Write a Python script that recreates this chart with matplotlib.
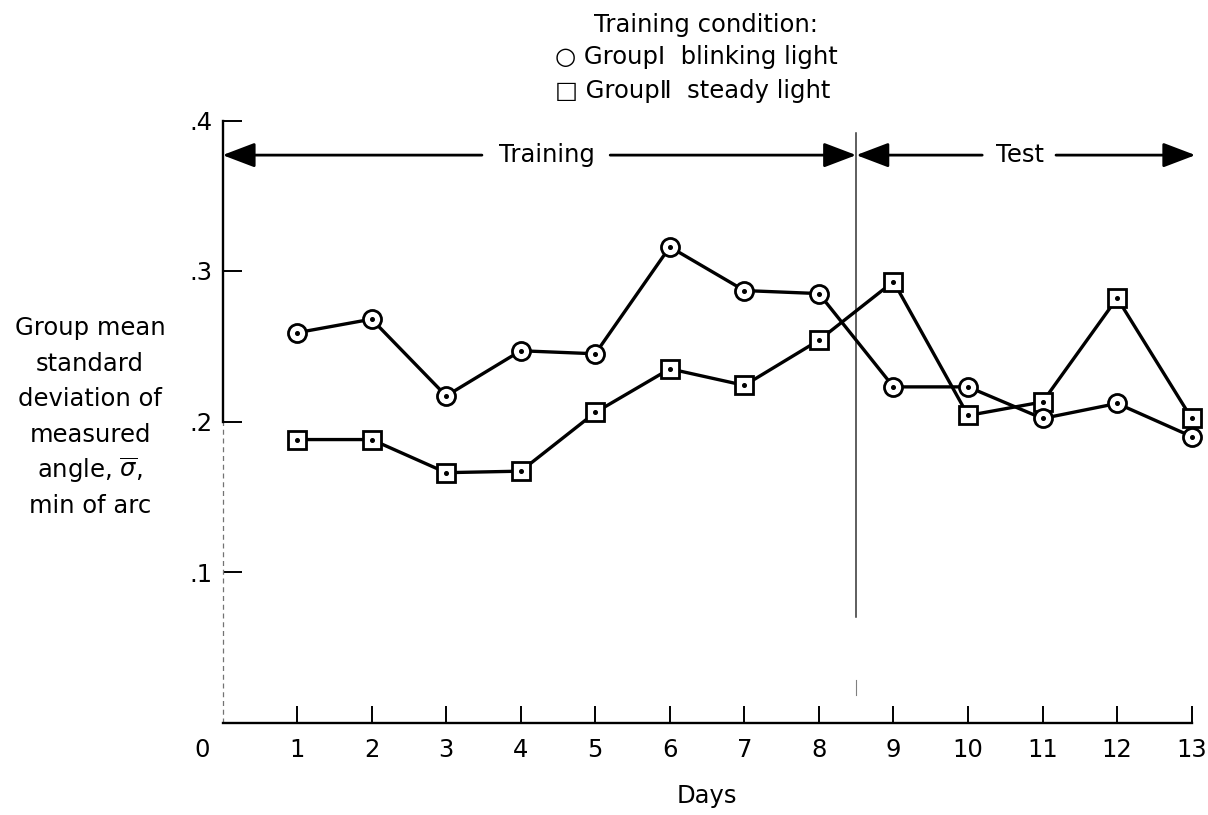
import matplotlib
matplotlib.use("Agg")
import matplotlib.pyplot as plt

plt.rcParams['font.family'] = ['DejaVu Sans']

# Data: group mean standard deviation of measured angle (min of arc) per day
days = [1, 2, 3, 4, 5, 6, 7, 8, 9, 10, 11, 12, 13]
group1_blinking = [0.259, 0.268, 0.217, 0.247, 0.245, 0.316, 0.287, 0.285,
                   0.223, 0.223, 0.202, 0.212, 0.190]
group2_steady = [0.188, 0.188, 0.166, 0.167, 0.206, 0.235, 0.224, 0.254,
                 0.293, 0.204, 0.213, 0.282, 0.202]
ytick_vals = [0.1, 0.2, 0.3, 0.4]
ytick_labels = ['.1', '.2', '.3', '.4']
xtick_labels = [str(d) for d in days]
phase_split = 8.5

W, H = 1208, 815
fig = plt.figure(figsize=(W / 100, H / 100), dpi=100)


def fx(px):
    return px / W


def fy(py):
    return 1 - py / H


ax = fig.add_axes([fx(222.5), fy(722.5), fx(1191.7) - fx(222.5), fy(120.5) - fy(722.5)])
ax.set_xlim(0, 13)
ax.set_ylim(0, 0.4)

FS = 17.5
lw_line = 2.4

# Series: squares first so circles sit on top where they overlap
ax.plot(days, group2_steady, color='black', lw=lw_line, marker='s', ms=12.5,
        mfc='white', mec='black', mew=2.0, clip_on=False, zorder=3)
ax.plot(days, group1_blinking, color='black', lw=lw_line, marker='o', ms=13,
        mfc='white', mec='black', mew=2.0, clip_on=False, zorder=4)
# centre dots inside markers
ax.plot(days, group2_steady, ls='none', marker='o', ms=2.6, color='black',
        clip_on=False, zorder=5)
ax.plot(days, group1_blinking, ls='none', marker='o', ms=2.6, color='black',
        clip_on=False, zorder=6)

# Axes styling
for s in ['top', 'right']:
    ax.spines[s].set_visible(False)
ax.spines['bottom'].set_linewidth(1.7)
ax.spines['left'].set_linewidth(1.7)
ax.spines['left'].set_bounds(0.2, 0.4)
ax.plot([0, 0], [0, 0.2], color='0.45', lw=0.9, ls=(0, (4, 3)), clip_on=False, zorder=2)

ax.set_yticks(ytick_vals)
ax.set_yticklabels(ytick_labels, fontsize=FS)
ax.set_xticks(days)
ax.set_xticklabels(xtick_labels, fontsize=FS)
ax.tick_params(axis='y', direction='in', length=13.5, width=1.4, pad=7)
ax.tick_params(axis='x', direction='in', length=12, width=1.4, pad=11)

fig.text(fx(201.7), fy(750), '0', fontsize=FS, ha='center', va='center')
ax.set_xlabel('Days', fontsize=FS, labelpad=16)

# Phase divider
ax.plot([phase_split, phase_split], [0.07, 0.392], color='0.2', lw=1.1, zorder=1)
ax.plot([phase_split, phase_split], [0.018, 0.028], color='0.5', lw=0.8, zorder=1)

# Phase arrows
arrow_y = 0.377
astyle = dict(arrowstyle='-|>,head_length=1.0,head_width=0.38', color='black',
              lw=2.0, shrinkA=0, shrinkB=0, mutation_scale=20)
ax.annotate('', xy=(0, arrow_y), xytext=(3.48, arrow_y), arrowprops=astyle,
            annotation_clip=False)
ax.annotate('', xy=(phase_split, arrow_y), xytext=(5.2, arrow_y), arrowprops=astyle,
            annotation_clip=False)
ax.annotate('', xy=(phase_split, arrow_y), xytext=(10.19, arrow_y), arrowprops=astyle,
            annotation_clip=False)
ax.annotate('', xy=(13.05, arrow_y), xytext=(11.18, arrow_y), arrowprops=astyle,
            annotation_clip=False)
ax.text(4.35, arrow_y, 'Training', fontsize=FS, ha='center', va='center')
ax.text(10.70, arrow_y, 'Test', fontsize=FS, ha='center', va='center')

# Legend block
fig.text(fx(706), fy(25), 'Training condition:', fontsize=FS, ha='center', va='center')
fig.text(fx(555), fy(57), '\u25cb Group\u2160  blinking light', fontsize=FS,
         ha='left', va='center')
fig.text(fx(555), fy(91), '\u25a1 Group\u2161  steady light', fontsize=FS,
         ha='left', va='center')

# Y-axis description
ylabel_lines = ['Group mean', 'standard', 'deviation of', 'measured',
                r'angle, $\overline{\sigma}$,', 'min of arc']
for i, line in enumerate(ylabel_lines):
    fig.text(fx(90), fy(328 + i * 35.6), line, fontsize=FS, ha='center', va='center')

fig.savefig('out.png', dpi=100)
